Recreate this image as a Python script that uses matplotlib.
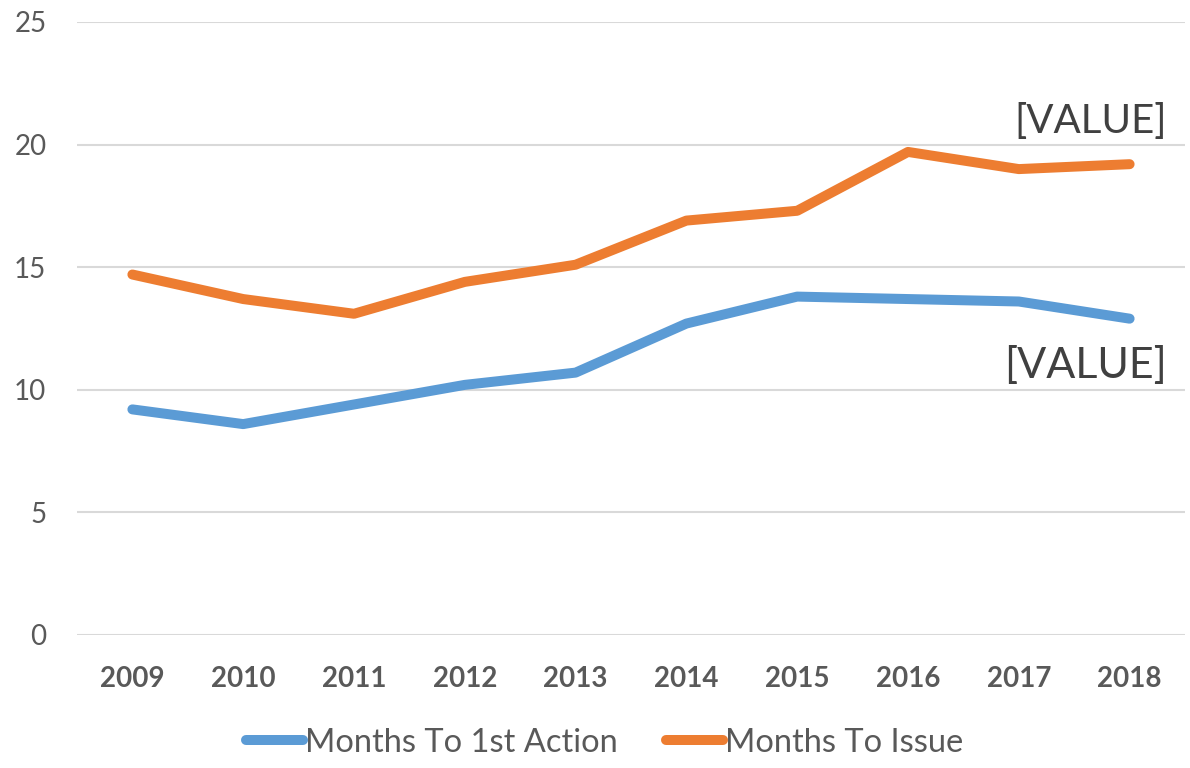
import matplotlib.pyplot as plt
import numpy as np

years = ['2009', '2010', '2011', '2012', '2013', '2014', '2015', '2016', '2017', '2018']
first_action = [9.2, 8.6, 9.4, 10.2, 10.7, 12.7, 13.8, 13.7, 13.6, 12.9]
to_issue = [14.7, 13.7, 13.1, 14.4, 15.1, 16.9, 17.3, 19.7, 19.0, 19.2]

plt.rcParams['font.family'] = ['Lato', 'DejaVu Sans']

fig = plt.figure(figsize=(11.9, 7.68), dpi=100)
ax = fig.add_axes([0.0647, 0.1732, 0.9311, 0.7982])

x = np.arange(len(years))
ax.plot(x, first_action, color='#5B9BD5', lw=7.2, solid_capstyle='round',
        solid_joinstyle='round', label='Months To 1st Action', zorder=3)
ax.plot(x, to_issue, color='#ED7D31', lw=7.2, solid_capstyle='round',
        solid_joinstyle='round', label='Months To Issue', zorder=3)

ax.set_xlim(-0.5, len(years) - 0.5)
ax.set_ylim(0, 25)
ax.set_yticks([0, 5, 10, 15, 20, 25])
ax.set_xticks(x)
ax.set_xticklabels(years, fontweight='bold')
ax.tick_params(axis='both', length=0, labelsize=20, colors='#595959')
ax.tick_params(axis='x', pad=22)
ax.tick_params(axis='y', pad=22)
ax.grid(axis='y', color='#D9D9D9', lw=1.5)
ax.set_axisbelow(True)
for s in ax.spines.values():
    s.set_visible(False)

# placeholder labels on the last points
ax.annotate('[VALUE]', (x[-1], to_issue[-1]), xytext=(-28, 31), textcoords='offset points',
            ha='center', va='center', fontsize=29, color='#404040')
ax.annotate('[VALUE]', (x[-1], first_action[-1]), xytext=(-32, -34), textcoords='offset points',
            ha='center', va='center', fontsize=31, color='#404040')

leg = fig.legend(loc='center', bbox_to_anchor=(0.508, 0.033), ncol=2, frameon=False,
                 fontsize=23.5, handlelength=1.75, handletextpad=0.05, columnspacing=1.5)
for t in leg.get_texts():
    t.set_color('#595959')

fig.savefig('out.png', dpi=100)
